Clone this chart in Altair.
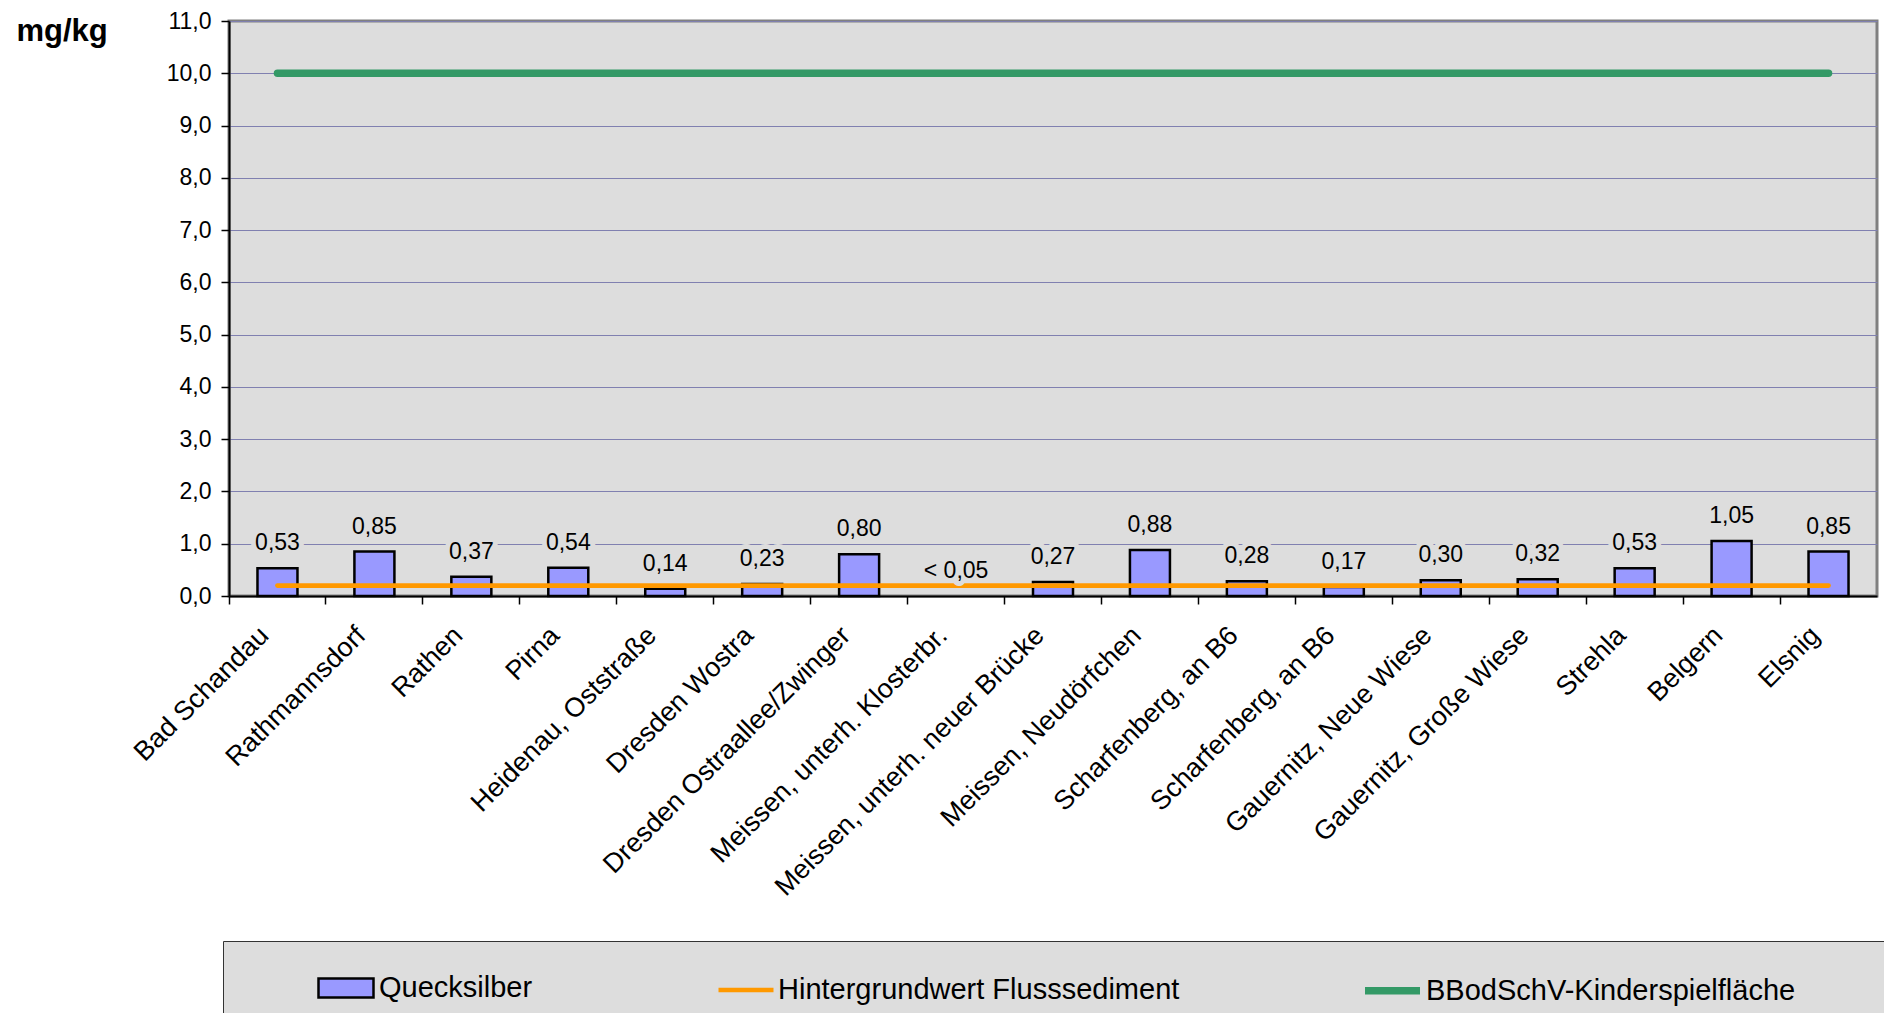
import json
import altair as alt
import pandas as pd

# ---------------- data ----------------
stations = [
    "Bad Schandau", "Rathmannsdorf", "Rathen", "Pirna", "Heidenau, Oststraße",
    "Dresden Wostra", "Dresden Ostraallee/Zwinger", "Meissen, unterh. Klosterbr.",
    "Meissen, unterh. neuer Brücke", "Meissen, Neudörfchen", "Scharfenberg, an B6",
    "Scharfenberg, an B6", "Gauernitz, Neue Wiese", "Gauernitz, Große Wiese",
    "Strehla", "Belgern", "Elsnig",
]
mercury = [0.53, 0.85, 0.37, 0.54, 0.14, 0.23, 0.80, None, 0.27, 0.88,
           0.28, 0.17, 0.30, 0.32, 0.53, 1.05, 0.85]
value_labels = ["0,53", "0,85", "0,37", "0,54", "0,14", "0,23", "0,80", "< 0,05",
                "0,27", "0,88", "0,28", "0,17", "0,30", "0,32", "0,53", "1,05", "0,85"]
bar_series = "Quecksilber"
line_series = ["Hintergrundwert Flusssediment", "BBodSchV-Kinderspielfläche"]
line_values = [0.2, 10.0]
y_ticks = [0, 1, 2, 3, 4, 5, 6, 7, 8, 9, 10, 11]

FONT = "Liberation Sans"
BAR_COLOR = "#9999ff"
LINE_COLORS = ["#ff9900", "#339966"]
LINE_WIDTHS = [4.7, 7.5]
BG = "#dddddd"

bars_df = pd.DataFrame({
    "idx": list(range(len(stations))),
    "value": mercury,
    "label": value_labels,
    "series": bar_series,
})
bars_df["labelpos"] = bars_df["value"].fillna(0)

lines_rows = []
for s, v in zip(line_series, line_values):
    for i in (0, len(stations) - 1):
        lines_rows.append({"idx": i, "value": v, "series": s})
lines_df = pd.DataFrame(lines_rows)

# ---------------- encodings ----------------
x_axis = alt.Axis(
    title=None,
    labelExpr=json.dumps(stations, ensure_ascii=False) + "[datum.value]",
    labelAngle=315, labelAlign="right", labelBaseline="middle",
    labelFont=FONT, labelFontSize=27, labelColor="black", labelPadding=27,
    labelOffset=-13,
    labelLimit=1000, labelOverlap=False,
    tickSize=8, tickColor="black", tickWidth=1.5, bandPosition=0,
    domainColor="black", domainWidth=2, grid=False,
)
x_enc = alt.X("idx:O", scale=alt.Scale(paddingInner=0, paddingOuter=0), axis=x_axis)

y_axis = alt.Axis(
    title="mg/kg", titleAngle=0, titleX=-213, titleY=19, titleAlign="left",
    titleBaseline="alphabetic", titleFont=FONT, titleFontSize=31,
    titleFontWeight="bold", titleColor="black",
    values=y_ticks,
    labelExpr="replace(format(datum.value, '.1f'), '.', ',')",
    labelFont=FONT, labelFontSize=23, labelColor="black", labelPadding=10,
    tickSize=8, tickColor="black", tickWidth=1.5,
    domainColor="black", domainWidth=2,
    grid=True, gridColor="#8080b0", gridWidth=1,
)
y_scale = alt.Scale(domain=[0, 11], nice=False, zero=True)


def y_enc(field):
    return alt.Y(field, type="quantitative", scale=y_scale, axis=y_axis)


# grey legend frame: an empty, invisible gradient legend of the halo colour
frame_legend = alt.Legend(
    title=None, orient="none", legendX=-6, legendY=920, direction="horizontal",
    fillColor=BG, strokeColor="#333333", padding=18, zindex=0,
    gradientLength=1750, gradientThickness=56, gradientStrokeWidth=0,
    values=[],
)
fill_legend = alt.Legend(
    title=None, orient="none", legendX=-6, legendY=920, direction="horizontal",
    padding=18, zindex=1,
    labelFont=FONT, labelFontSize=29, labelColor="black", labelLimit=4000,
    symbolType="M-1,-0.345H1V0.345H-1Z", symbolSize=3025,
    symbolStrokeColor="black", symbolStrokeWidth=2.5,
    symbolOffset=76, labelOffset=4,
)
line_legend = alt.Legend(
    title=None, orient="none", legendX=469, legendY=920, direction="horizontal",
    padding=18, zindex=1,
    labelFont=FONT, labelFontSize=29, labelColor="black", labelLimit=4000,
    symbolType="stroke", symbolSize=3025, labelOffset=2, columnPadding=170,
)

bars = alt.Chart(bars_df).mark_bar(size=40, stroke="black", strokeWidth=2.5).encode(
    x=x_enc,
    y=y_enc("value"),
    fill=alt.Fill("series:N", scale=alt.Scale(domain=[bar_series], range=[BAR_COLOR]),
                  legend=fill_legend),
)

lines = alt.Chart(lines_df).mark_line(strokeCap="round").encode(
    x=x_enc,
    y=y_enc("value"),
    stroke=alt.Stroke("series:N", scale=alt.Scale(domain=line_series, range=LINE_COLORS),
                      legend=line_legend),
    strokeWidth=alt.StrokeWidth("series:N",
                                scale=alt.Scale(domain=line_series, range=LINE_WIDTHS),
                                legend=line_legend),
)

halo = alt.Chart(bars_df).mark_text(
    font=FONT, fontSize=23, dy=-18, baseline="alphabetic", align="center",
    fill=BG, strokeWidth=10, strokeJoin="round",
).encode(
    x=x_enc, y=y_enc("labelpos"), text="label:N",
    stroke=alt.Stroke("labelpos:Q", scale=alt.Scale(range=[BG, BG]), legend=frame_legend),
)

texts = alt.Chart(bars_df).mark_text(
    font=FONT, fontSize=23, dy=-18, baseline="alphabetic", align="center", color="black",
).encode(x=x_enc, y=y_enc("labelpos"), text="label:N")

chart = alt.layer(bars, lines, halo, texts).resolve_scale(
    stroke="independent", strokeWidth="independent"
).properties(
    width=1648, height=575,
    autosize=alt.AutoSizeParams(type="none"),
    padding={"left": 221, "top": 13, "right": 7, "bottom": 417},
    background="white",
).configure_view(fill=BG, stroke="#808080", strokeWidth=3)

chart.save("out.html", embed_options={"renderer": "svg", "actions": False})
